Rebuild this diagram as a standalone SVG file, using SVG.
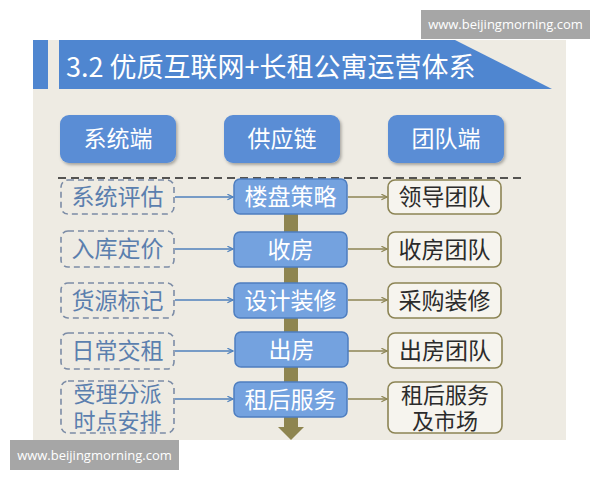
<svg xmlns="http://www.w3.org/2000/svg" width="600" height="480" viewBox="0 0 600 480">
<defs>
<style>
text{font-family:"Noto Sans CJK SC","Noto Sans",sans-serif;text-anchor:middle}
.hdr{fill:#5A8DD5}
.hdrt{fill:#fff;font-size:23px}
.sys{fill:none;stroke:#7C8CA6;stroke-width:1.6;stroke-dasharray:6 4}
.syst{fill:#5B7FAE;font-size:23px}
.mid{fill:#74A2DF;stroke:#4E7EC0;stroke-width:1.5}
.midt{fill:#fff;font-size:23px}
.team{fill:#F6F4EE;stroke:#8C8454;stroke-width:1.6}
.teamt{fill:#2b2b2b;font-size:23px}
.two{font-size:22px}
.ba{stroke:#4F81BD;stroke-width:1.6;fill:none;marker-end:url(#ab)}
.oa{stroke:#8C8454;stroke-width:1.6;fill:none;marker-end:url(#ao)}
.wm{fill:#A6A6A6}
.wmt{fill:#fff;font-size:13px;font-family:"Open Sans","DejaVu Sans",sans-serif}
</style>
<marker id="ab" viewBox="0 0 10 10" refX="9" refY="5" markerWidth="7" markerHeight="7" markerUnits="userSpaceOnUse" orient="auto"><path d="M1,1 L9,5 L1,9" fill="none" stroke="#4F81BD" stroke-width="1.8"/></marker>
<marker id="ao" viewBox="0 0 10 10" refX="9" refY="5" markerWidth="7" markerHeight="7" markerUnits="userSpaceOnUse" orient="auto"><path d="M1,1 L9,5 L1,9" fill="none" stroke="#8C8454" stroke-width="1.8"/></marker>
<filter id="sh" x="-10%" y="-10%" width="130%" height="140%"><feDropShadow dx="1.5" dy="2" stdDeviation="1.5" flood-color="#000" flood-opacity="0.3"/></filter>
</defs>
<rect width="600" height="480" fill="#fff"/>
<rect x="33" y="40" width="533" height="400" fill="#EEEBE3"/>
<g id="title">
<rect x="33" y="40" width="15" height="49" fill="#4F86D0"/>
<path d="M59,40 L455,40 L552,89 L59,89 Z" fill="#4F86D0"/>
<text x="66" y="77" style="text-anchor:start;font-size:27px;fill:#fff">3.2 优质互联网+长租公寓运营体系</text>
</g>
<g id="header-sys"><rect class="hdr" x="60" y="115" width="116" height="48" rx="9" filter="url(#sh)"/><text class="hdrt" x="118" y="147">系统端</text></g>
<g id="header-supply"><rect class="hdr" x="224" y="115" width="116" height="48" rx="9" filter="url(#sh)"/><text class="hdrt" x="282" y="147">供应链</text></g>
<g id="header-team"><rect class="hdr" x="388" y="115" width="116" height="48" rx="9" filter="url(#sh)"/><text class="hdrt" x="446" y="147">团队端</text></g>
<line x1="58" y1="178" x2="523" y2="178" stroke="#222" stroke-width="1.3" stroke-dasharray="8 5"/>
<g id="trunk">
<rect x="284" y="212" width="14" height="216" fill="#8E8550"/>
<path d="M278,427 L304,427 L291,440 Z" fill="#8E8550"/>
</g>
<g id="connectors">
<line class="ba" x1="175" y1="197" x2="233" y2="197"/>
<line class="ba" x1="175" y1="249" x2="233" y2="249"/>
<line class="ba" x1="175" y1="300" x2="233" y2="300"/>
<line class="ba" x1="175" y1="351" x2="233" y2="351"/>
<line class="ba" x1="175" y1="399" x2="233" y2="399"/>
<line class="oa" x1="348" y1="197" x2="387" y2="197"/>
<line class="oa" x1="348" y1="249" x2="387" y2="249"/>
<line class="oa" x1="348" y1="300" x2="387" y2="300"/>
<line class="oa" x1="348" y1="351" x2="387" y2="351"/>
<line class="oa" x1="348" y1="399" x2="387" y2="399"/>
</g>
<g id="s1"><rect class="sys" x="61" y="180" width="113" height="34" rx="7"/><text class="syst" x="117.5" y="205">系统评估</text></g>
<g id="s2"><rect class="sys" x="61" y="231" width="113" height="36" rx="7"/><text class="syst" x="117.5" y="257">入库定价</text></g>
<g id="s3"><rect class="sys" x="61" y="283" width="113" height="35" rx="7"/><text class="syst" x="117.5" y="309">货源标记</text></g>
<g id="s4"><rect class="sys" x="61" y="333" width="113" height="36" rx="7"/><text class="syst" x="117.5" y="359">日常交租</text></g>
<g id="s5"><rect class="sys" x="61" y="381" width="113" height="52" rx="7"/><text class="syst two" x="117.5" y="402">受理分派</text><text class="syst two" x="117.5" y="429">时点安排</text></g>
<g id="m1"><rect class="mid" x="234" y="179" width="113" height="35" rx="6"/><text class="midt" x="290.5" y="205">楼盘策略</text></g>
<g id="m2"><rect class="mid" x="234" y="232" width="113" height="35" rx="6"/><text class="midt" x="290.5" y="258">收房</text></g>
<g id="m3"><rect class="mid" x="234" y="283" width="113" height="35" rx="6"/><text class="midt" x="290.5" y="309">设计装修</text></g>
<g id="m4"><rect class="mid" x="235" y="332" width="113" height="35" rx="6"/><text class="midt" x="291.5" y="358">出房</text></g>
<g id="m5"><rect class="mid" x="234" y="382" width="113" height="35" rx="6"/><text class="midt" x="290.5" y="408">租后服务</text></g>
<g id="t1"><rect class="team" x="388" y="180" width="113" height="34" rx="7"/><text class="teamt" x="444.5" y="205">领导团队</text></g>
<g id="t2"><rect class="team" x="388" y="232" width="113" height="35" rx="7"/><text class="teamt" x="444.5" y="258">收房团队</text></g>
<g id="t3"><rect class="team" x="388" y="283" width="113" height="35" rx="7"/><text class="teamt" x="444.5" y="309">采购装修</text></g>
<g id="t4"><rect class="team" x="388" y="333" width="114" height="35" rx="7"/><text class="teamt" x="445" y="359">出房团队</text></g>
<g id="t5"><rect class="team" x="388" y="382" width="114" height="51" rx="7"/><text class="teamt two" x="445" y="403">租后服务</text><text class="teamt two" x="445" y="429">及市场</text></g>
<g id="wm1"><rect class="wm" x="421" y="10" width="169" height="29"/><text class="wmt" x="505.5" y="29">www.beijingmorning.com</text></g>
<g id="wm2"><rect class="wm" x="10" y="440" width="169" height="30"/><text class="wmt" x="94.5" y="460">www.beijingmorning.com</text></g>
</svg>
